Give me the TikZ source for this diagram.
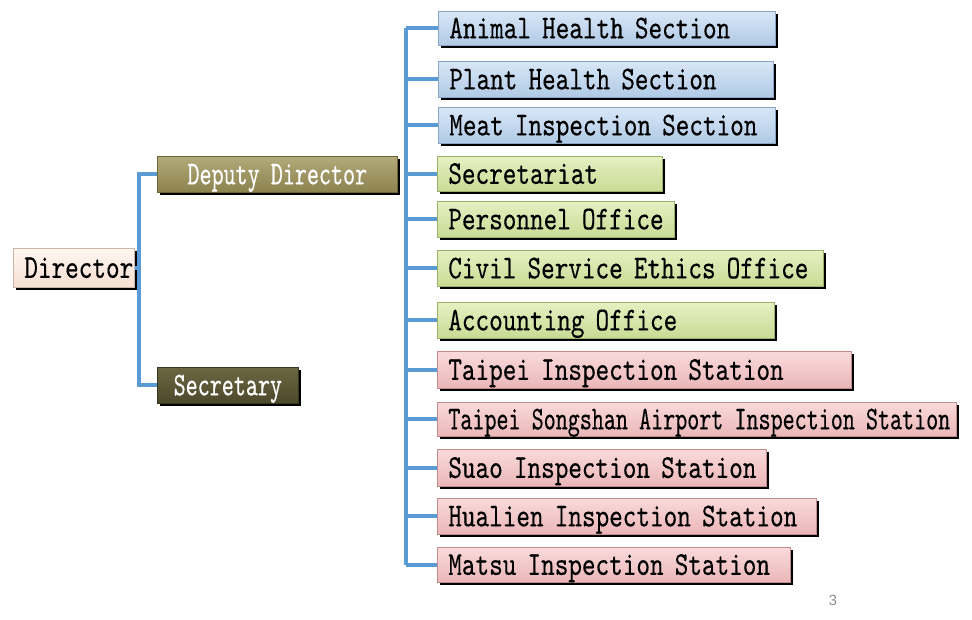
\documentclass[tikz,border=0pt]{standalone}
\usepackage{fontspec}
\usetikzlibrary{shadows}
\newfontfamily\boxfont{lmmono10-regular.otf}[FakeStretch=0.778,FakeBold=0.3]
\newfontfamily\boxfontn{lmmono10-regular.otf}[FakeStretch=0.688,FakeBold=0.3]
\newfontfamily\pagefont{Liberation Sans}
\definecolor{conn}{HTML}{5B9BD5}
\definecolor{blueT}{HTML}{D8E7F7}\definecolor{blueB}{HTML}{B0C9E5}\definecolor{blueD}{HTML}{8AA6C6}
\definecolor{greenT}{HTML}{E6F0C2}\definecolor{greenB}{HTML}{C8DB95}\definecolor{greenD}{HTML}{9DB268}
\definecolor{pinkT}{HTML}{FADADA}\definecolor{pinkB}{HTML}{EAB6B8}\definecolor{pinkD}{HTML}{C28C8E}
\definecolor{dirT}{HTML}{FFF7F1}\definecolor{dirB}{HTML}{F6DED2}\definecolor{dirD}{HTML}{CDB5A8}
\definecolor{depT}{HTML}{B2AA7A}\definecolor{depB}{HTML}{8C824E}\definecolor{depD}{HTML}{6E6638}
\definecolor{secT}{HTML}{6C6742}\definecolor{secB}{HTML}{4C482A}\definecolor{secD}{HTML}{3A361E}
\tikzset{
  obox/.style={rectangle, top color=#1T, bottom color=#1B, draw=#1D, line width=0.5pt,
    drop shadow={shadow xshift=1.8pt, shadow yshift=-2.2pt, fill=black, opacity=1},
    font=\boxfont\fontsize{25pt}{28pt}\selectfont, text=black,
    text height=15pt, text depth=0pt},
  bluebox/.style={obox=blue},
  greenbox/.style={obox=green},
  pinkbox/.style={obox=pink},
  dirbox/.style={obox=dir, align=center},
  depbox/.style={obox=dep, text=white, align=center},
  secbox/.style={obox=sec, text=white, align=center},
  narrow/.style={font=\boxfontn\fontsize{25pt}{28pt}\selectfont},
  link/.style={draw=conn, line width=3pt},
  pagenum/.style={font=\pagefont\fontsize{11pt}{13pt}\selectfont, text=black!45, inner sep=0pt}
}
\newcommand\obox[7]{%
  \pgfmathsetmacro\bw{(#4-#2)*0.75}%
  \pgfmathsetmacro\bh{(#5-#3)*0.75}%
  \pgfmathsetmacro\tw{(#4-#2-22)*0.75}%
  \node[anchor=north west, minimum width=\bw pt, minimum height=\bh pt, text width=\tw pt,
        inner xsep=8.25pt, inner ysep=0pt, align=left, #6] (#1) at (#2,#3) {\mbox{#7}};}
\begin{document}
\begin{tikzpicture}[x=0.75pt,y=-0.75pt]
\useasboundingbox (0,0) rectangle (972,619);
% left part
\obox{dir}{13}{248}{134}{287}{dirbox}{Director}
\obox{dep}{157}{156}{397}{192}{depbox,narrow}{Deputy Director}
\obox{sec}{157}{367}{298}{403}{secbox,narrow}{Secretary}
% right part
\obox{ahs}{438}{11}{775}{45}{bluebox}{Animal Health Section}
\obox{phs}{438}{61}{773}{97}{bluebox}{Plant Health Section}
\obox{mis}{438}{107}{775}{143}{bluebox}{Meat Inspection Section}
\obox{sct}{437}{156}{662}{191}{greenbox}{Secretariat}
\obox{po}{437}{201}{674}{237}{greenbox}{Personnel Office}
\obox{cse}{437}{250}{823}{286}{greenbox}{Civil Service Ethics Office}
\obox{ao}{437}{302}{774}{338}{greenbox}{Accounting Office}
\obox{tis}{437}{351}{851}{388}{pinkbox}{Taipei Inspection Station}
\obox{tsa}{437}{402}{956}{436}{pinkbox,narrow}{Taipei Songshan Airport Inspection Station}
\obox{sis}{437}{449}{766}{486}{pinkbox}{Suao Inspection Station}
\obox{his}{437}{498}{816}{534}{pinkbox}{Hualien Inspection Station}
\obox{mts}{437}{547}{790}{582}{pinkbox}{Matsu Inspection Station}
% connectors
\coordinate (lt) at (139,0);
\coordinate (rt) at (406,0);
\draw[link] (dep.west) -- (dep.west -| lt) -- (sec.west -| lt) -- (sec.west);
\draw[link] (dir.east) -- (dir.east -| lt);
\draw[link] (ahs.west -| rt) -- (mts.west -| rt);
\foreach \b in {ahs,phs,mis,sct,po,cse,ao,tis,tsa,sis,his,mts}
  \draw[link] (\b.west -| rt) -- (\b.west);
\node[pagenum] (pg) at (833,600) {3};
\end{tikzpicture}
\end{document}
